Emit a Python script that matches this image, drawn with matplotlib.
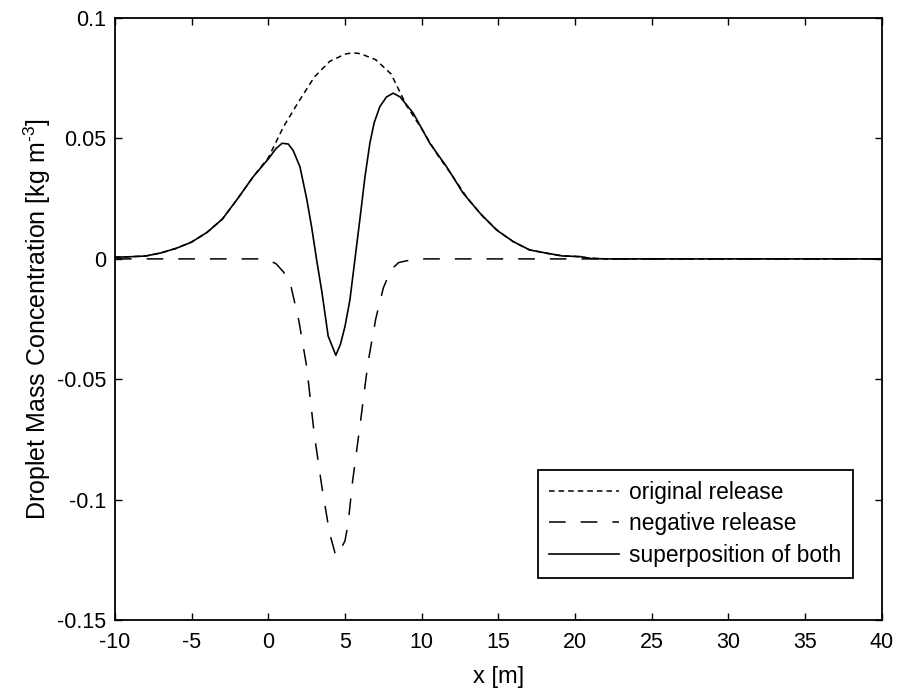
import numpy as np
import matplotlib
matplotlib.use("Agg")
import matplotlib.pyplot as plt
from matplotlib.ticker import FuncFormatter

plt.rcParams['font.family'] = ['Liberation Sans', 'DejaVu Sans']
plt.rcParams['axes.unicode_minus'] = False
plt.rcParams['lines.scale_dashes'] = False
plt.rcParams['mathtext.fontset'] = 'custom'
plt.rcParams['mathtext.rm'] = 'Liberation Sans'
plt.rcParams['mathtext.it'] = 'Liberation Sans:italic'
plt.rcParams['mathtext.default'] = 'regular'

# original release (dotted)
x_orig = [-10, -9, -8, -7, -6, -5, -4, -3, -2, -1, 0, 1, 2, 3, 4, 5, 5.5, 6, 7, 8, 9,
          10, 11, 12, 13, 14, 15, 16, 17, 18, 19, 20, 21, 22, 25, 30, 35, 40]
y_orig = [0.0007, 0.0009, 0.0012, 0.0025, 0.0044, 0.007, 0.011, 0.0165, 0.025, 0.034,
          0.042, 0.055, 0.0655, 0.0755, 0.082, 0.085, 0.0856, 0.0852, 0.0827, 0.0768,
          0.0638, 0.054, 0.0435, 0.0345, 0.025, 0.0175, 0.0115, 0.007, 0.0038, 0.0025,
          0.0014, 0.001, 0.0003, 0.0, 0.0, 0.0, 0.0, 0.0]

# negative release (dashed)
x_neg = [-10, -0.5, 0, 0.5, 1, 1.5, 2, 2.5, 3, 3.5, 4, 4.4, 4.8, 5.0, 5.2, 5.5, 6, 6.5,
         7, 7.5, 8, 8.5, 9, 9.7, 40]
y_neg = [0.0, 0.0, -0.0005, -0.002, -0.0055, -0.012, -0.026, -0.0447, -0.073, -0.095,
         -0.114, -0.1233, -0.1195, -0.117, -0.110, -0.092, -0.068, -0.043, -0.025,
         -0.012, -0.0045, -0.0015, -0.0008, 0.0, 0.0]

# superposition of both (solid)
x_sup = [-10, -9, -8, -7, -6, -5, -4, -3, -2, -1, 0, 0.5, 0.9, 1.3, 1.62, 2.06, 2.5,
         2.82, 3.15, 3.5, 3.9, 4.4, 4.7, 5.0, 5.32, 5.65, 6.0, 6.3, 6.62, 6.9, 7.27,
         7.7, 8.14, 8.6, 9.45, 10.53, 11.62, 12.7, 13.8, 14.88, 15.97, 17.05, 18.14,
         19.2, 20.3, 21, 22, 25, 30, 40]
y_sup = [0.0007, 0.0009, 0.0012, 0.0025, 0.0044, 0.007, 0.011, 0.0165, 0.025, 0.034,
         0.0415, 0.0458, 0.048, 0.0477, 0.045, 0.0383, 0.025, 0.0134, -0.0004, -0.014,
         -0.032, -0.040, -0.0355, -0.028, -0.017, 0.0, 0.018, 0.034, 0.048, 0.0565,
         0.0632, 0.0672, 0.0688, 0.0672, 0.0605, 0.048, 0.0383, 0.0273, 0.019, 0.012,
         0.0072, 0.0037, 0.0024, 0.0012, 0.001, 0.0002, 0.0, 0.0, 0.0, 0.0]

x_ticks = [-10, -5, 0, 5, 10, 15, 20, 25, 30, 35, 40]
y_ticks = [-0.15, -0.1, -0.05, 0, 0.05, 0.1]

fig = plt.figure(figsize=(8.98, 6.93), dpi=100)
ax = fig.add_axes([0.128, 0.105, 0.854, 0.869])

ax.plot(x_orig, y_orig, color='black', lw=1.1, dashes=(4, 2.9), label='original release')
ax.plot(x_neg, y_neg, color='black', lw=1.1, dashes=(12, 10.8), label='negative release')
ax.plot(x_sup, y_sup, color='black', lw=1.2, label='superposition of both')

ax.set_xlim(-10, 40)
ax.set_ylim(-0.15, 0.1)
ax.set_xticks(x_ticks)
ax.set_yticks(y_ticks)
fmt = FuncFormatter(lambda v, p: '%g' % round(v, 4))
ax.xaxis.set_major_formatter(fmt)
ax.yaxis.set_major_formatter(fmt)
ax.tick_params(direction='in', length=5, width=1.0, labelsize=15.5,
               top=True, right=True, pad=6)
ax.tick_params(axis='x', pad=8.5)
for s in ax.spines.values():
    s.set_linewidth(1.3)

ax.set_xlabel('x [m]', fontsize=17, labelpad=9)
ax.set_ylabel(r'Droplet Mass Concentration [kg m$^{\text{-3}}$]', fontsize=18, labelpad=3)

leg = ax.legend(loc='lower right', bbox_to_anchor=(0.962, 0.0698), borderaxespad=0,
                fontsize=16.4, handlelength=3.05, handletextpad=0.45, labelspacing=0.37,
                borderpad=0.5, fancybox=False, framealpha=1, edgecolor='black')
leg.get_frame().set_linewidth(1.3)

fig.savefig('out.png', dpi=100)
